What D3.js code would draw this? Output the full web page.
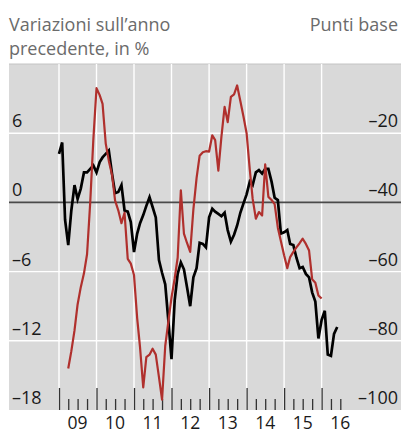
<!DOCTYPE html>
<html>
<head>
<meta charset="utf-8">
<script src="https://cdn.jsdelivr.net/npm/d3@7"></script>
<style>
    body { margin: 0; background: #fff; }
    svg { display: block; }
    text { font-family: "Open Sans", "Noto Sans", sans-serif; }
</style>
</head>
<body>
<svg id="chart" width="401" height="434"></svg>
<script>
// ------------------ DATA ------------------

// monthly series, black one starts Jan 2009, red one starts Apr 2009
let blackStart = "2009-01";
let blackValues = [
    4.2, 5.2, -1.5, -3.7, -0.7, 1.5, 0.3, 1.2, 2.6, 2.6, 2.9, 3.2,
    2.6, 3.5, 3.9, 4.2, 4.5, 2.5, 0.8, 0.9, 1.5, -0.7, -0.8, -1.7,
    -4.3, -2.7, -1.8, -1.1, -0.3, 0.45, -0.4, -1.3, -5.0, -6.1, -7.1, -10.2,
    -13.6, -8.5, -6.2, -5.2, -5.8, -7.4, -9.0, -6.5, -5.7, -3.5, -3.6, -3.9,
    -1.3, -0.55, -0.8, -1.0, -1.2, -0.9, -2.4, -3.4, -2.8, -2.0, -0.9, -0.1,
    0.7, 1.8, 1.5, 2.6, 2.8, 2.5, 2.9, 2.9, 1.8, 0.4, 0.2, -2.7,
    -2.6, -2.4, -3.6, -3.7, -4.8, -5.7, -5.6, -6.2, -6.5, -7.8, -8.6, -11.8,
    -10.2, -9.4, -13.2, -13.3, -11.4, -10.8
];

let redStart = "2009-04";
let redValues = [
    -88, -83, -77, -69.5, -64.5, -60.5, -55, -40, -22,
    -7, -9, -11.5, -23, -28, -32, -39.5, -42.3, -46, -43, -56.3, -57.7,
    -61, -73.5, -82, -93.5, -84.7, -84, -82.3, -84, -90.5, -97, -81.5, -74.5,
    -67.5, -62, -56, -36.5, -49, -51.8, -54.3, -42, -33, -26.5, -25.5, -25.2,
    -25.3, -20.6, -22, -30.8, -21, -12.4, -16.8, -9.5, -8.8, -6.2, -10.7, -15.1,
    -20, -30.5, -39, -44.7, -42.8, -43.8, -29, -38.4, -39.3, -40.5, -47.3, -51.2,
    -55.3, -59, -55.8, -54.3, -53, -51.8, -50.5, -52, -53.9, -62.2, -63.2, -66.9,
    -67.8
];

let leftTicks = [6, 0, -6, -12, -18];
let rightTicks = [-20, -40, -60, -80, -100];
let yearLabels = ["09", "10", "11", "12", "13", "14", "15", "16"];

let leftTitle = ["Variazioni sull\u2019anno", "precedente, in %"];
let rightTitle = "Punti base";

// ------------------ GLOBAL VARIABLES ------------------

let svg = d3.select("#chart");
let plotLeft = 9;
let plotRight = 401;
let plotTop = 64;
let plotBottom = 410;

let parseMonth = d3.timeParse("%Y-%m");

let x = d3.scaleTime()
    .domain([new Date(2009, 0, 1), new Date(2016, 0, 1)])
    .range([59, 321.6]);

let yLeft = d3.scaleLinear().domain([-18, 12]).range([plotBottom, plotTop]);
let yRight = d3.scaleLinear().domain([-100, 0]).range([plotBottom, plotTop]);

// ------------------ HELPERS ------------------

function toSeries(start, values) {
    let first = parseMonth(start);
    return values.map(function (v, i) {
        return { date: d3.timeMonth.offset(first, i), value: v };
    });
}

function formatMinus(v) {
    return v < 0 ? "\u2013" + Math.abs(v) : String(v);
}

// ------------------ BUILDING CHART ------------------

function drawBackground() {
    svg.append("rect")
        .attr("x", plotLeft)
        .attr("y", plotTop)
        .attr("width", plotRight - plotLeft)
        .attr("height", plotBottom - plotTop)
        .attr("fill", "#d9d9d9");

    svg.append("line")
        .attr("x1", plotLeft).attr("x2", plotRight)
        .attr("y1", plotTop).attr("y2", plotTop)
        .attr("stroke", "#c4c4c4")
        .attr("stroke-width", 1);

    // white grid
    let years = d3.timeYear.range(new Date(2009, 0, 1), new Date(2016, 1, 1));
    svg.append("g")
        .selectAll("line")
        .data(years)
        .enter().append("line")
        .attr("x1", (d) => x(d)).attr("x2", (d) => x(d))
        .attr("y1", plotTop).attr("y2", plotBottom)
        .attr("stroke", "#fff")
        .attr("stroke-width", 1.4);

    svg.append("g")
        .selectAll("line")
        .data(leftTicks.filter((d) => d != 0 && d != -18))
        .enter().append("line")
        .attr("x1", plotLeft).attr("x2", plotRight)
        .attr("y1", (d) => yLeft(d)).attr("y2", (d) => yLeft(d))
        .attr("stroke", "#fff")
        .attr("stroke-width", 1.4);

    // zero line
    svg.append("line")
        .attr("x1", plotLeft).attr("x2", plotRight)
        .attr("y1", yLeft(0)).attr("y2", yLeft(0))
        .attr("stroke", "#4a4a4a")
        .attr("stroke-width", 1.6);
}

function drawAxes() {
    let majorAxis = d3.axisBottom(x)
        .tickValues(d3.timeYear.range(new Date(2009, 0, 1), new Date(2016, 1, 1)))
        .tickSize(-22)
        .tickFormat("");

    let quarters = d3.timeMonth.every(3)
        .range(new Date(2009, 0, 1), new Date(2016, 7, 1))
        .filter((d) => d.getMonth() != 0);

    let minorAxis = d3.axisBottom(x)
        .tickValues(quarters)
        .tickSize(-11)
        .tickFormat("");

    [majorAxis, minorAxis].forEach(function (axis) {
        let g = svg.append("g")
            .attr("transform", "translate(0," + plotBottom + ")")
            .call(axis);
        g.select(".domain").remove();
        g.selectAll("line").attr("stroke", "#333").attr("stroke-width", 1.3);
    });

    // year labels, centred in the middle of each year
    svg.append("g")
        .selectAll("text")
        .data(yearLabels)
        .enter().append("text")
        .attr("x", (d, i) => x(new Date(2009 + i, 6, 1)))
        .attr("y", 429)
        .attr("text-anchor", "middle")
        .attr("font-size", 17.5)
        .attr("fill", "#1a1a1a")
        .text((d) => d);

    svg.append("g")
        .selectAll("text")
        .data(leftTicks)
        .enter().append("text")
        .attr("x", 12)
        .attr("y", (d) => yLeft(d) - 6)
        .attr("font-size", 18)
        .attr("fill", "#1a1a1a")
        .text(formatMinus);

    svg.append("g")
        .selectAll("text")
        .data(rightTicks)
        .enter().append("text")
        .attr("x", 398)
        .attr("y", (d) => yRight(d) - 6)
        .attr("text-anchor", "end")
        .attr("font-size", 18)
        .attr("fill", "#1a1a1a")
        .text(formatMinus);

    // unit titles
    svg.append("g")
        .selectAll("text")
        .data(leftTitle)
        .enter().append("text")
        .attr("x", 9)
        .attr("y", (d, i) => 31 + i * 24)
        .attr("font-size", 18)
        .attr("fill", "#6b6b6b")
        .text((d) => d);

    svg.append("text")
        .attr("x", 398)
        .attr("y", 31)
        .attr("text-anchor", "end")
        .attr("font-size", 18)
        .attr("fill", "#6b6b6b")
        .text(rightTitle);
}

function drawLines() {
    let blackLine = d3.line()
        .x((d) => x(d.date))
        .y((d) => yLeft(d.value));

    let redLine = d3.line()
        .x((d) => x(d.date))
        .y((d) => yRight(d.value));

    svg.append("path")
        .datum(toSeries(blackStart, blackValues))
        .attr("d", blackLine)
        .attr("fill", "none")
        .attr("stroke", "#000")
        .attr("stroke-width", 2.7)
        .attr("stroke-linejoin", "miter");

    svg.append("path")
        .datum(toSeries(redStart, redValues))
        .attr("d", redLine)
        .attr("fill", "none")
        .attr("stroke", "#b0302d")
        .attr("stroke-width", 2.2)
        .attr("stroke-linejoin", "round");
}

drawBackground();
drawAxes();
drawLines();
</script>
</body>
</html>
